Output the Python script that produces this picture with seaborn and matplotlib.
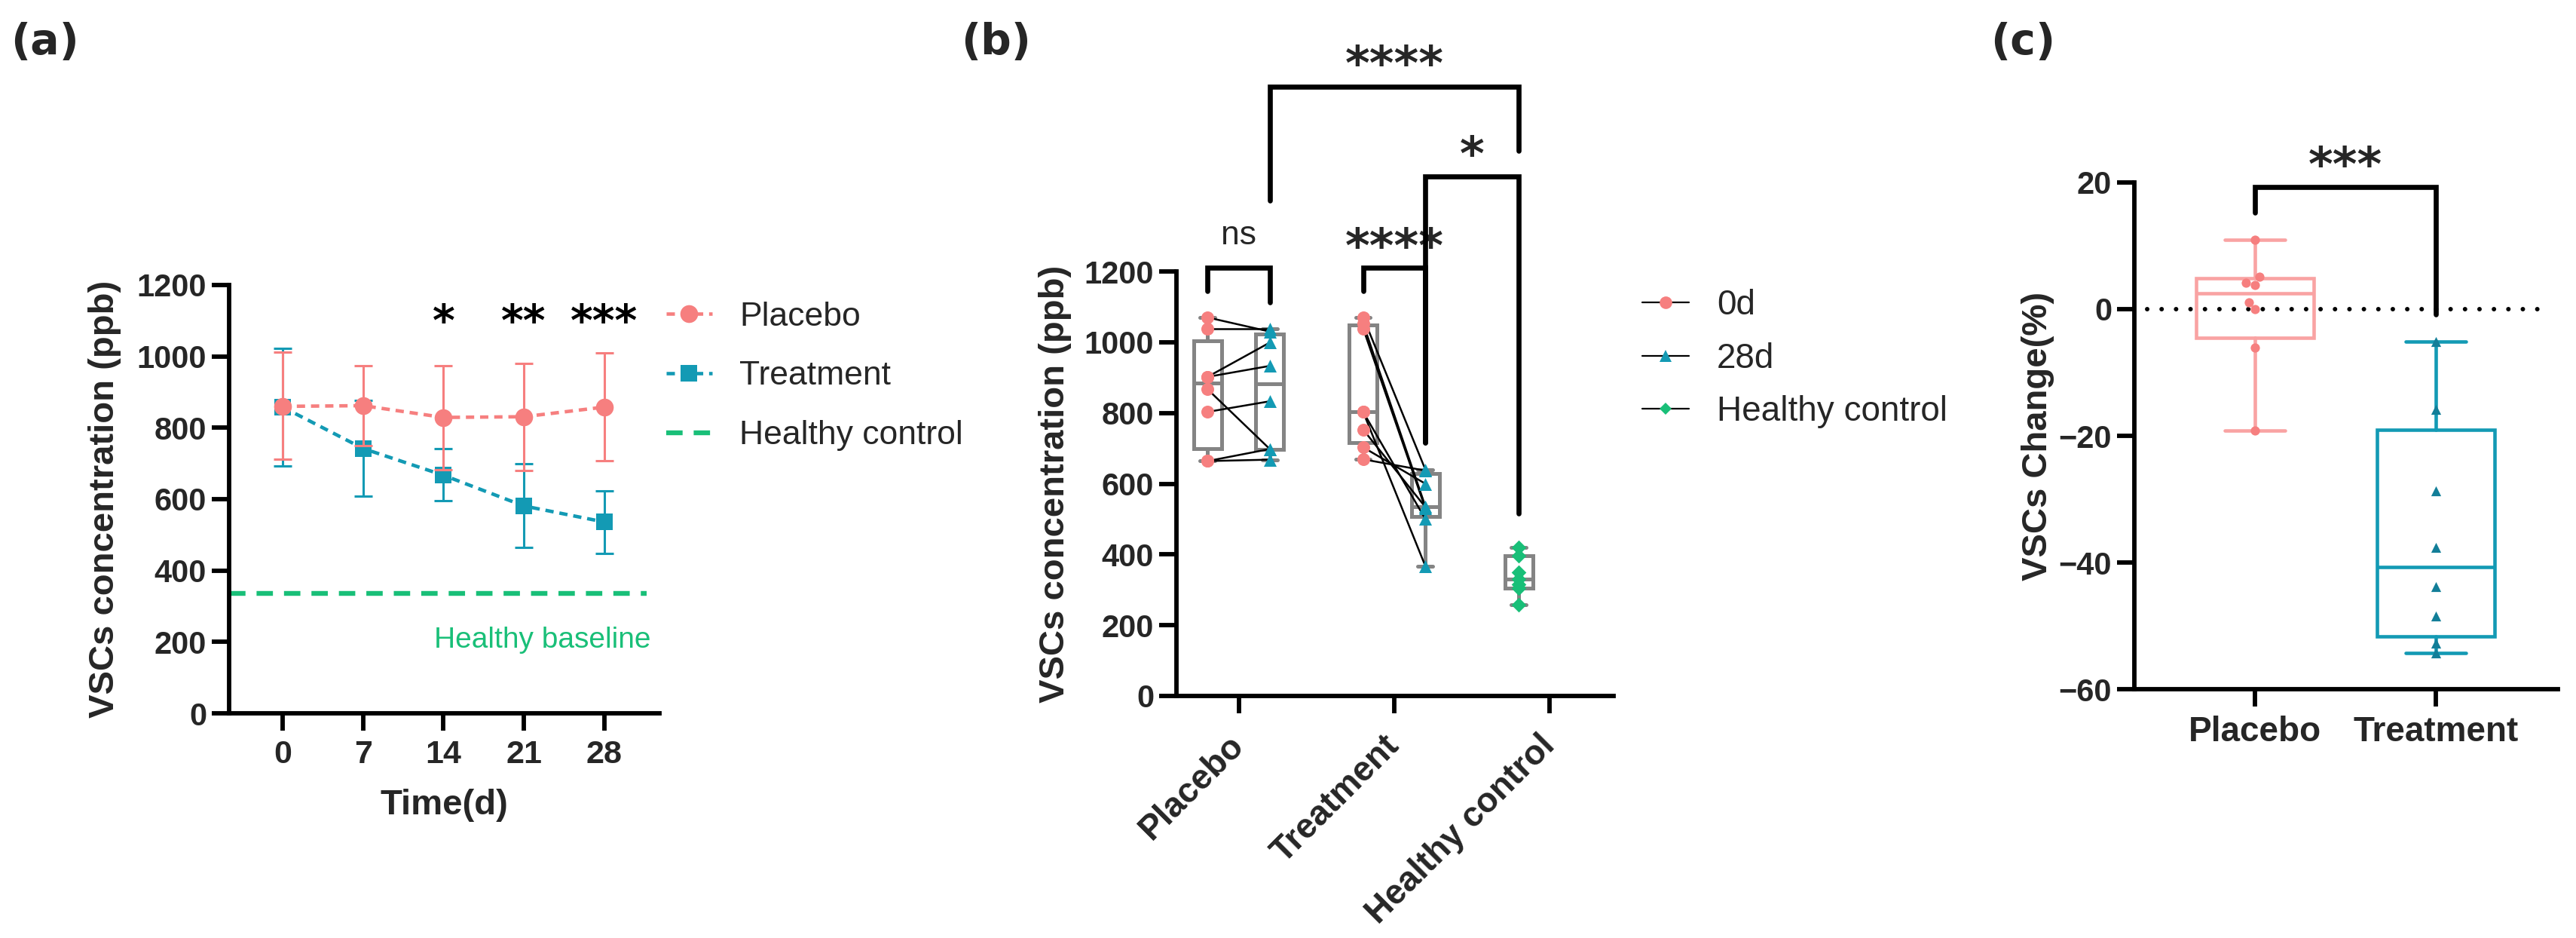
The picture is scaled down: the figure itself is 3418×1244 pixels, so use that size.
import numpy as np
import pandas as pd
import seaborn as sns
import matplotlib
matplotlib.use("Agg")
import matplotlib.pyplot as plt
from matplotlib.lines import Line2D

# ---------------- data ----------------
days = [0, 7, 14, 21, 28]
placebo_mean = [860, 862, 829, 831, 858]
placebo_upper = [1011, 974, 974, 981, 1010]
placebo_lower = [712, 751, 683, 681, 707]
treat_mean = [858, 742, 667, 581, 536]
treat_upper = [1022, 876, 742, 699, 624]
treat_lower = [694, 608, 596, 464, 447]
healthy_baseline = 335
sig_days = [14, 21, 28]
sig_labels = ["*", "**", "***"]

groups_b = ["Placebo", "Treatment", "Healthy control"]
placebo_0d = [1070, 1038, 902, 902, 867, 803, 664, 664]
placebo_28d = [1030, 1038, 999, 933, 698, 833, 698, 668]
treat_0d = [1071, 1053, 1039, 803, 803, 753, 703, 669]
treat_28d = [640, 536, 530, 500, 367, 534, 600, 637]
healthy_vals = [420, 396, 350, 331, 316, 304, 258]

groups_c = ["Placebo", "Treatment"]
change_placebo = [11.0, 5.1, 4.2, 3.8, 1.1, 0.0, -6.1, -19.2]
change_treat = [-5.1, -15.8, -28.7, -37.6, -43.8, -48.5, -52.7, -54.3]

# ---------------- style ----------------
PINK = "#F67F7F"
PINK_BOX = "#F9A3A3"
TEAL = "#139AB4"
TEAL_DARK = "#127E98"
GREEN = "#19BF78"
GREY = "#848484"

sns.set_theme(style="ticks")
plt.rcParams["font.family"] = ["Liberation Sans", "DejaVu Sans"]
plt.rcParams["axes.unicode_minus"] = True

W, H = 3418, 1244
fig = plt.figure(figsize=(W / 100, H / 100), dpi=100)
fig.patch.set_facecolor("white")


def px_axes(l, r, t, b):
    return fig.add_axes([l / W, 1 - b / H, (r - l) / W, (b - t) / H])


axA = px_axes(304, 875, 378, 946)
axB = px_axes(1561, 2141, 360, 923)
axC = px_axes(2832, 3394, 242, 914)

SPW = 4.2
TICKFS = 30
LABFS = 34
STARFAM = "DejaVu Sans"


def style_axes(ax, xfs=TICKFS):
    sns.despine(ax=ax)
    for s in ["left", "bottom"]:
        ax.spines[s].set_linewidth(SPW)
        ax.spines[s].set_color("black")
    ax.tick_params(width=SPW, length=16.5, labelsize=TICKFS, pad=5, color="black")
    ax.tick_params(axis="x", labelsize=xfs)
    for lab in ax.get_xticklabels() + ax.get_yticklabels():
        lab.set_fontweight("bold")
    ax.set_facecolor("white")


# ---------------- panel (a) ----------------
tm, tl, tu = map(np.array, (treat_mean, treat_lower, treat_upper))
pm, pl, pu = map(np.array, (placebo_mean, placebo_lower, placebo_upper))
axA.errorbar(days, tm, yerr=[tm - tl, tu - tm], fmt="none", ecolor=TEAL,
             elinewidth=2.2, capsize=8.3, capthick=2.2, zorder=1.5, label="_nolegend_")
sns.lineplot(x=days, y=treat_mean, color=TEAL, marker="s", markersize=16,
             markeredgewidth=0, linewidth=3.3, linestyle=(0, (2.4, 1.7)),
             ax=axA, zorder=2, label="Treatment")
axA.errorbar(days, pm, yerr=[pm - pl, pu - pm], fmt="none", ecolor=PINK,
             elinewidth=2.2, capsize=8.3, capthick=2.2, zorder=2.5, label="_nolegend_")
sns.lineplot(x=days, y=placebo_mean, color=PINK, marker="o", markersize=17,
             markeredgewidth=0, linewidth=3.3, linestyle=(0, (2.4, 1.7)),
             ax=axA, zorder=3, label="Placebo")
axA.axhline(healthy_baseline, xmin=0, xmax=0.97, color=GREEN, linewidth=4.6,
            linestyle=(0, (3.4, 2.3)), label="Healthy control", zorder=1)

for d, s in zip(sig_days, sig_labels):
    axA.text(d, 1092, s, ha="center", va="center", fontsize=41,
             family=STARFAM, fontweight="bold", color="black")
axA.text(32.07, 205, "Healthy baseline", color=GREEN, fontsize=28,
         ha="right", va="center")

axA.set_xlim(-4.66, 32.8)
axA.set_ylim(0, 1200)
axA.set_xticks(days)
axA.set_yticks(range(0, 1201, 200))
axA.set_xlabel("Time(d)", fontsize=LABFS, fontweight="bold")
axA.set_ylabel("VSCs concentration (ppb)", fontsize=LABFS, fontweight="bold")
style_axes(axA, xfs=31)
axA.tick_params(axis="x", pad=9)
axA.yaxis.set_label_coords(-0.25, 0.5)
axA.xaxis.set_label_coords(0.5, -0.176)

h, l = axA.get_legend_handles_labels()
order = ["Placebo", "Treatment", "Healthy control"]
hd = dict(zip(l, h))
axA.legend([hd[k] for k in order], order, loc="upper left",
           bbox_to_anchor=(1.016, 0.962), frameon=False, fontsize=32,
           handlelength=1.36, handletextpad=0.82, labelspacing=0.85,
           borderpad=0, borderaxespad=0)

# ---------------- panel (b) ----------------
OFF = 0.2
rows = []
for grp, pre, post in [("Placebo", placebo_0d, placebo_28d),
                       ("Treatment", treat_0d, treat_28d)]:
    gi = groups_b.index(grp)
    for k, (a, b) in enumerate(zip(pre, post)):
        rows.append(dict(subject=f"{grp}{k}", time="0d", xpos=gi - OFF, value=a))
        rows.append(dict(subject=f"{grp}{k}", time="28d", xpos=gi + OFF, value=b))
for k, v in enumerate(healthy_vals):
    rows.append(dict(subject=f"H{k}", time="Healthy control", xpos=2 - OFF, value=v))
df_b = pd.DataFrame(rows)


def box_stats(vals):
    q1, med, q3 = np.percentile(vals, [25, 50, 75], method="weibull")
    return dict(med=med, q1=q1, q3=q3, whislo=min(vals), whishi=max(vals), fliers=[])


stats_b = [box_stats(placebo_0d), box_stats(placebo_28d),
           box_stats(treat_0d), box_stats(treat_28d), box_stats(healthy_vals)]
pos_b = [0 - OFF, 0 + OFF, 1 - OFF, 1 + OFF, 2 - OFF]
bw = 3.6
axB.bxp(stats_b, positions=pos_b, widths=0.18, capwidths=0.095, showfliers=False,
        patch_artist=True, manage_ticks=False, zorder=2,
        boxprops=dict(facecolor="white", edgecolor=GREY, linewidth=bw),
        medianprops=dict(color=GREY, linewidth=bw),
        whiskerprops=dict(color=GREY, linewidth=bw),
        capprops=dict(color=GREY, linewidth=bw))

df_pairs = df_b[df_b.time != "Healthy control"]
sns.lineplot(data=df_pairs, x="xpos", y="value", units="subject", estimator=None,
             color="black", linewidth=1.8, sort=False, legend=False, ax=axB, zorder=3)

mk = {"0d": "o", "28d": "^", "Healthy control": "D"}
pal = {"0d": PINK, "28d": TEAL, "Healthy control": GREEN}
sz = {"0d": 150, "28d": 150, "Healthy control": 100}
for t in ["0d", "28d", "Healthy control"]:
    sub = df_b[df_b.time == t]
    sns.scatterplot(data=sub, x="xpos", y="value", marker=mk[t], color=pal[t],
                    s=sz[t], linewidth=0, legend=False, ax=axB, zorder=4)

axB.set_xlim(-0.40, 2.41)
axB.set_ylim(0, 1200)
axB.set_yticks(range(0, 1201, 200))
axB.set_xticks(range(len(groups_b)))
axB.set_xticklabels(groups_b)
axB.set_xlabel("")
axB.set_ylabel("VSCs concentration (ppb)", fontsize=LABFS, fontweight="bold")
style_axes(axB, xfs=33)
for lab in axB.get_xticklabels():
    lab.set_rotation(45)
    lab.set_ha("right")
    lab.set_va("center")
    lab.set_rotation_mode("anchor")
axB.tick_params(axis="x", pad=26)
axB.yaxis.set_label_coords(-0.24, 0.5)

BLW = 4.8


def bracket(ax, x1, x2, y, y1, y2, text, ty, fs, family=STARFAM, weight="bold"):
    ax.plot([x1, x1, x2, x2], [y1, y, y, y2], color="black", lw=BLW,
            clip_on=False, solid_joinstyle="miter", zorder=5)
    ax.text((x1 + x2) / 2, ty, text, ha="center", va="center", fontsize=fs,
            family=family, fontweight=weight, clip_on=False)


bracket(axB, -0.2, 0.2, 1210, 1144, 1112, "ns", 1302, 32,
        family="Liberation Sans", weight="normal")
bracket(axB, 0.8, 1.2, 1210, 1144, 716, "****", 1263, 45)
bracket(axB, 1.2, 1.8, 1468, 716, 516, "*", 1525, 45)
bracket(axB, 0.2, 1.8, 1722, 1400, 1541, "****", 1779, 45)

hb = [Line2D([], [], color="black", lw=1.6, marker="o", markersize=12,
             markerfacecolor=PINK, markeredgewidth=0),
      Line2D([], [], color="black", lw=1.6, marker="^", markersize=12,
             markerfacecolor=TEAL, markeredgewidth=0),
      Line2D([], [], color="black", lw=1.6, marker="D", markersize=8,
             markerfacecolor=GREEN, markeredgewidth=0)]
axB.legend(hb, ["0d", "28d", "Healthy control"], loc="upper left",
           bbox_to_anchor=(1.066, 0.959), frameon=False, fontsize=33,
           handlelength=1.35, handletextpad=0.8, labelspacing=0.58,
           borderpad=0, borderaxespad=0)

# ---------------- panel (c) ----------------
cw = 3.3
axC.bxp([box_stats(change_placebo)], positions=[0], widths=0.65, capwidths=0.33,
        showfliers=False, patch_artist=True, manage_ticks=False, zorder=2,
        boxprops=dict(facecolor="none", edgecolor=PINK_BOX, linewidth=cw),
        medianprops=dict(color=PINK_BOX, linewidth=cw),
        whiskerprops=dict(color=PINK_BOX, linewidth=cw),
        capprops=dict(color=PINK_BOX, linewidth=cw))
axC.bxp([box_stats(change_treat)], positions=[1], widths=0.65, capwidths=0.33,
        showfliers=False, patch_artist=True, manage_ticks=False, zorder=2,
        boxprops=dict(facecolor="none", edgecolor=TEAL, linewidth=cw),
        medianprops=dict(color=TEAL, linewidth=cw),
        whiskerprops=dict(color=TEAL, linewidth=cw),
        capprops=dict(color=TEAL, linewidth=cw))

sns.swarmplot(x=["Placebo"] * len(change_placebo), y=change_placebo, order=groups_c,
              color=PINK, size=8.8, ax=axC, zorder=4)
sns.stripplot(x=["Treatment"] * len(change_treat), y=change_treat, order=groups_c,
              jitter=False, marker="^", color=TEAL_DARK, size=9.5, linewidth=0,
              ax=axC, zorder=4)
axC.axhline(0, xmin=0.03, xmax=0.98, color="black", lw=4.3,
            linestyle=(0, (0.01, 3.2)), dash_capstyle="round", zorder=3)

axC.set_xlim(-0.667, 1.675)
axC.set_ylim(-60, 20)
axC.set_yticks([-60, -40, -20, 0, 20])
axC.set_xticks([0, 1])
axC.set_xticklabels(groups_c)
axC.set_xlabel("")
axC.set_ylabel("VSCs Change(%)", fontsize=LABFS, fontweight="bold")
style_axes(axC, xfs=33)
axC.tick_params(axis="x", pad=9)
axC.yaxis.set_label_coords(-0.189, 0.5)

axC.plot([0, 0, 1, 1], [15.2, 19.3, 19.3, -0.8], color="black", lw=BLW,
         clip_on=False, solid_joinstyle="miter", zorder=5)
axC.text(0.5, 22.4, "***", ha="center", va="center", fontsize=45,
         family=STARFAM, fontweight="bold", clip_on=False)

# ---------------- panel labels ----------------
for x, t in [(14, "(a)"), (1275, "(b)"), (2641, "(c)")]:
    fig.text(x / W, 1 - 56 / H, t, fontsize=41, fontweight="bold",
             family="DejaVu Sans", ha="left", va="center")

fig.savefig("out.png", dpi=100, facecolor="white")
